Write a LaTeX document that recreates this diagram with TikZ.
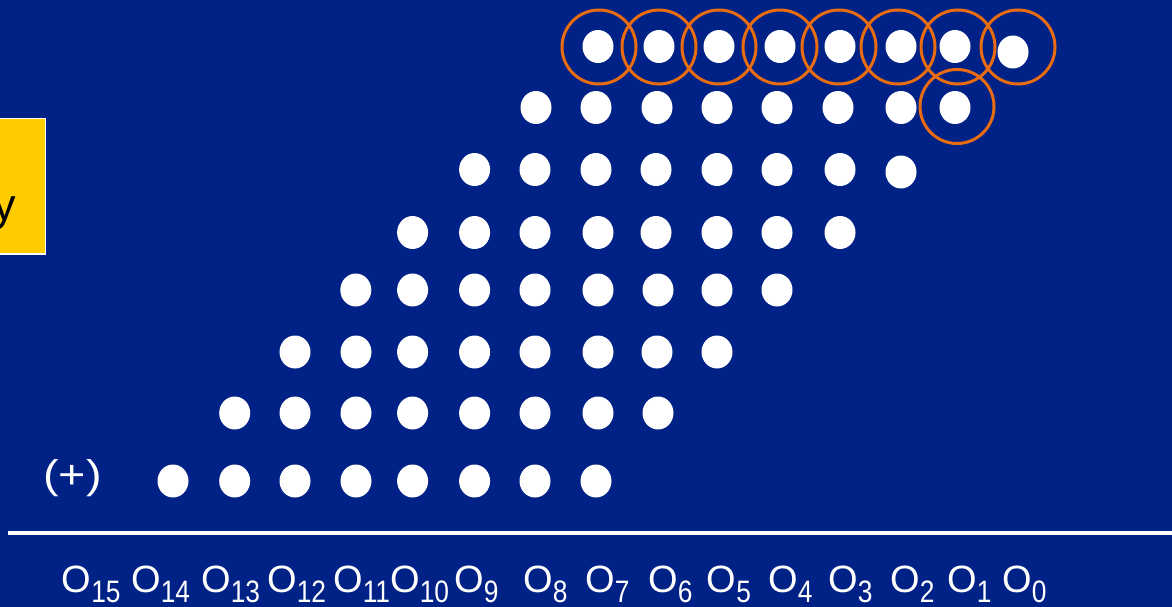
\documentclass[tikz,border=0pt]{standalone}
\usepackage{fontspec}
\setmainfont{Liberation Sans}
\usetikzlibrary{shapes.geometric}
\definecolor{bgc}{RGB}{0,33,133}
\definecolor{ringc}{RGB}{232,108,18}
\definecolor{yboxc}{RGB}{255,204,0}
\newcommand\osub[1]{\raisebox{-10pt}{\scalebox{0.85}[1]{\fontsize{31}{31}\selectfont #1}}}
\begin{document}
\begin{tikzpicture}[x=1pt,y=-1pt,
  dot/.style={ellipse, fill=white, inner sep=0, minimum width=31, minimum height=33},
  ring/.style={circle, draw=ringc, line width=3, inner sep=0, minimum size=74},
  olbl/.style={text=white, inner sep=0, anchor=base west, font=\fontsize{38}{38}\selectfont},
  yboxs/.style={rectangle, fill=yboxc, draw=white, line width=1.5, inner sep=0, anchor=north east, minimum width=120, minimum height=135},
]
\fill[bgc] (0,0) rectangle (1172,607);
\useasboundingbox (0,0) rectangle (1172,607);

% yellow box (cut off at left edge)
\node[yboxs] (box) at (46,118) {};
\node[inner sep=0, anchor=base east, text=black, font=\fontsize{45}{45}\selectfont] (boxtxt) at (16,220.5) {y};

% partial-product dots
\foreach \r/\pts in {
  0/{598/46.5,659/46.5,719/46.5,780/46.5,840/46.5,901/46.5,955/46.5,1013/52},
  1/{536/107.5,596/107.5,657/107.5,717/107.5,777/107.5,838/107.5,901/107.5,955/107.5},
  2/{474.6/169.5,535/169.5,596/169.5,656/169.5,717/169.5,777/169.5,840/169.5,901/172},
  3/{412.6/232.5,474.6/232.5,535/232.5,598/232.5,656/232.5,717/232.5,777/232.5,840/232.5},
  4/{355.8/290,412.6/290,474.6/290,535/290,598/290,658/290,717/290,777/290},
  5/{295/352,356/352,412.6/352,474.6/352,535/352,598/352,657/352,717/352},
  6/{234.7/413,295/413,356/413,412.6/413,474.6/413,535/413,598/413,658/413},
  7/{173/481,234.7/481,295/481,356/481,412.6/481,474.6/481,535/481,596/481}}
{
  \foreach \x/\y [count=\i] in \pts {
    \node[dot] (d\r-\i) at (\x,\y) {};
  }
}

% orange rings
\foreach \x [count=\i] in {599,659,719,780,839,898,958,1018} {
  \node[ring] (ring\i) at (\x,47) {};
}
\node[ring] (ringb) at (957,106.5) {};

% (+) label
\node[inner sep=0, anchor=base west, text=white, font=\fontsize{40}{40}\selectfont] (plus) at (43,488.5) {\scalebox{1.17}[1]{(+)}};

% sum line
\coordinate (la) at (8,533);
\coordinate (lb) at (1172,533);
\draw[white, line width=4] (la) -- (lb);

% output labels
\foreach \x/\n in {61.5/15,131/14,201/13,267/12,333/11,390/10,454/9,523/8,585/7,648/6,706.5/5,768/4,828/3,890/2,947/1,1002/0} {
  \node[olbl] (o\n) at (\x,592) {O\osub{\n}};
}
\end{tikzpicture}
\end{document}
